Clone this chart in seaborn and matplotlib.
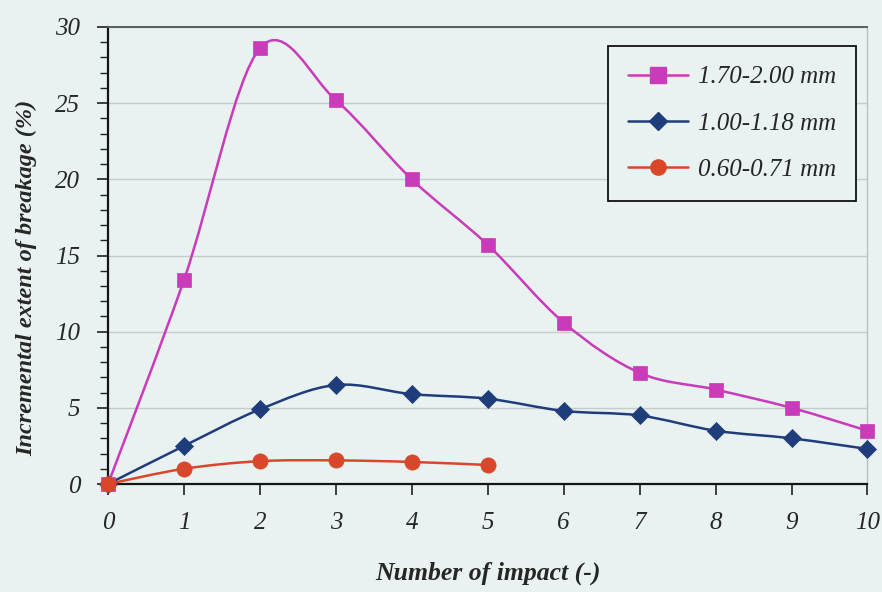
import numpy as np
import pandas as pd
import matplotlib
matplotlib.use("Agg")
import matplotlib.pyplot as plt
from matplotlib.path import Path
from matplotlib.patches import PathPatch
from matplotlib.lines import Line2D
import seaborn as sns

# Incremental extent of breakage (%) per impact number, by size class
impacts_large = [0, 1, 2, 3, 4, 5, 6, 7, 8, 9, 10]
breakage_large = [0.0, 13.4, 28.6, 25.2, 20.0, 15.7, 10.6, 7.3, 6.2, 5.0, 3.5]

impacts_mid = [0, 1, 2, 3, 4, 5, 6, 7, 8, 9, 10]
breakage_mid = [0.0, 2.5, 4.9, 6.5, 5.9, 5.6, 4.8, 4.5, 3.5, 3.0, 2.3]

impacts_small = [0, 1, 2, 3, 4, 5]
breakage_small = [0.0, 1.0, 1.5, 1.55, 1.45, 1.25]

labels = ["1.70-2.00 mm", "1.00-1.18 mm", "0.60-0.71 mm"]
colors = ["#c93bb8", "#1f3d7a", "#d9472b"]
markers = ["s", "D", "o"]
msizes = [115, 85, 120]

xticks = list(range(0, 11))
yticks = [0, 5, 10, 15, 20, 25, 30]

BG = "#e9f1f1"

sns.set_theme(style="white")
plt.rcParams["font.family"] = ["Liberation Serif", "DejaVu Serif"]

fig = plt.figure(figsize=(8.82, 5.92), dpi=100, facecolor=BG)
ax = fig.add_axes([0.1225, 0.1824, 0.861, 0.772])
ax.set_facecolor(BG)

frames = []
for xs, ys, lab in [(impacts_large, breakage_large, labels[0]),
                    (impacts_mid, breakage_mid, labels[1]),
                    (impacts_small, breakage_small, labels[2])]:
    frames.append(pd.DataFrame({"impact": xs, "breakage": ys, "size": lab}))
df = pd.concat(frames, ignore_index=True)


def smooth_path(xs, ys, k=6.0):
    """Cardinal-spline Bezier path through the points (spreadsheet-style smoothing)."""
    pts = np.column_stack([xs, ys]).astype(float)
    n = len(pts)
    verts = [tuple(pts[0])]
    codes = [Path.MOVETO]
    for i in range(n - 1):
        p0 = pts[i - 1] if i > 0 else pts[i]
        p1 = pts[i]
        p2 = pts[i + 1]
        p3 = pts[i + 2] if i + 2 < n else pts[i + 1]
        c1 = p1 + (p2 - p0) / k
        c2 = p2 - (p3 - p1) / k
        verts += [tuple(c1), tuple(c2), tuple(p2)]
        codes += [Path.CURVE4] * 3
    return Path(verts, codes)


for (lab, g), col in zip(df.groupby("size", sort=False), colors):
    patch = PathPatch(smooth_path(g["impact"].values, g["breakage"].values),
                      facecolor="none", edgecolor=col, lw=1.8, zorder=3,
                      clip_on=False)
    ax.add_patch(patch)

for lab, col, mk, ms in zip(labels, colors, markers, msizes):
    sub = df[df["size"] == lab]
    sns.scatterplot(data=sub, x="impact", y="breakage", ax=ax, color=col,
                    marker=mk, s=ms, edgecolor=col, linewidth=0.5,
                    zorder=4, clip_on=False, legend=False)

ax.set_xlim(0, 10)
ax.set_ylim(0, 30)
ax.set_xticks(xticks)
ax.set_yticks(yticks)
ax.set_yticks(np.arange(0, 31, 1), minor=True)
ax.set_xticklabels([str(v) for v in xticks], fontstyle="italic", fontsize=18)
ax.set_yticklabels([str(v) for v in yticks], fontstyle="italic", fontsize=18)

ax.grid(axis="y", which="major", color="#c5cccc", lw=1.0)
ax.set_axisbelow(True)

ax.tick_params(axis="x", which="major", direction="out", length=8, width=1.2,
               color="#202020", pad=12, bottom=True)
ax.tick_params(axis="y", which="major", direction="out", length=8, width=1.2,
               color="#202020", pad=12, left=True)
ax.tick_params(axis="y", which="minor", direction="out", length=6, width=1.0,
               color="#202020", left=True)

for side, col, lw in [("left", "#151515", 1.6), ("bottom", "#151515", 1.6),
                      ("top", "#55605f", 1.4), ("right", "#b8c2c2", 1.0)]:
    ax.spines[side].set_color(col)
    ax.spines[side].set_linewidth(lw)
    ax.spines[side].set_visible(True)

ax.set_xlabel("Number of impact (-)", fontsize=18.5, fontweight="bold",
              fontstyle="italic", labelpad=20)
ax.set_ylabel("Incremental extent of breakage (%)", fontsize=17.5,
              fontweight="bold", fontstyle="italic")
ax.yaxis.set_label_coords(-0.093, 0.45)

handles = [Line2D([0], [0], color=c, lw=1.8, marker=m, markersize=s,
                  markerfacecolor=c, markeredgecolor=c)
           for c, m, s in zip(colors, markers, [11, 9, 11])]
leg = ax.legend(handles, labels, loc="upper right",
                bbox_to_anchor=(0.995, 0.975), frameon=True, fancybox=False,
                prop={"style": "italic", "size": 18}, handlelength=2.4,
                borderpad=0.8, labelspacing=0.95, handletextpad=0.4,
                borderaxespad=0.3)
leg.get_frame().set_edgecolor("#111111")
leg.get_frame().set_linewidth(1.3)
leg.get_frame().set_facecolor(BG)
leg.get_frame().set_alpha(1.0)

fig.savefig("out.png", dpi=100, facecolor=BG)
